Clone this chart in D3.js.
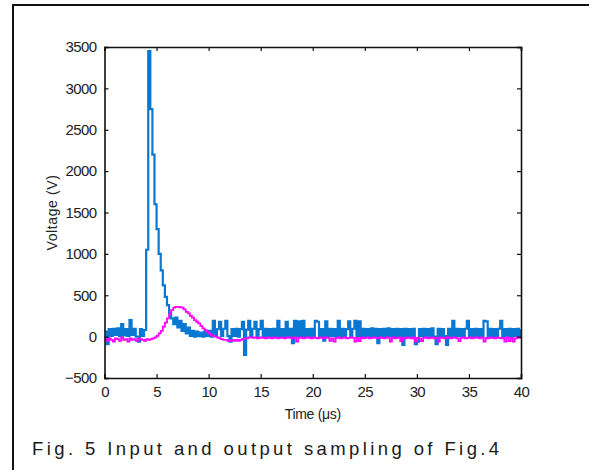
<!DOCTYPE html>
<html>
<head>
<meta charset="utf-8">
<script src="https://cdn.jsdelivr.net/npm/d3@7"></script>
<style>
  body { margin: 0; background: #fff; }
  svg { display: block; }
</style>
</head>
<body>
<div id="chart"></div>
<script>
// sampling step (us)
const dt = 0.2;

// x / y ticks
const xTicks = [0, 5, 10, 15, 20, 25, 30, 35, 40];
const yTicks = [-500, 0, 500, 1000, 1500, 2000, 2500, 3000, 3500];

// input (blue), one value per 0.2 us, 0..40 us
const inputV = [
  60, -90, 90, 10, 95, 20, 100, 5, 150, 15,
  90, 10, 200, 20, 95, 0, -60, 90, 10, 80,
  1050, 3450, 2750, 2200, 1600, 1300, 1000, 800, 620, 480,
  380, 280, 220, 150, 230, 110, 190, 70, 150, 40,
  110, 10, 70, 0, 60, 5, 50, 0, 60, 10,
  70, 0, 190, 10, 90, 180, 10, 95, 190, 5,
  -60, 90, 10, 95, 0, 90, 180, -220, 85, 190,
  10, 95, 180, 5, 90, 190, 10, 95, 0, 90,
  10, 95, 5, 190, 10, 90, 0, 180, 10, 95,
  -80, 190, 5, 185, 10, 190, 5, 90, 10, 95,
  0, 190, 180, 10, 90, -50, 185, 5, 95, 10,
  90, 0, 190, 10, 95, 5, 90, 185, 10, 95,
  190, 5, 185, 10, 95, 5, 90, 10, 100, 0,
  95, -80, 90, 10, 95, 5, 100, 10, 90, 0,
  95, 10, 90, -100, 95, 5, 90, 10, 95, -90,
  -60, 90, 10, 95, 5, 90, 10, 100, 0, -90,
  95, 10, 90, 5, -100, 95, 10, 190, 5, 95,
  10, 90, 0, 95, 190, 10, 90, 5, 95, 10,
  90, 5, 190, 185, 10, 95, 0, 90, 10, 95,
  190, 5, 90, 10, 95, 0, 90, 10, 95, 5,
  90
];

// output (magenta), same sampling
const outputV = [
  -30, -50, -20, -40, -60, -20, -30, -50, -10, -40,
  -30, -60, -20, -40, -30, -50, -20, -30, -40, -50,
  -30, -40, -30, -20, -10, 10, 40, 70, 120, 170,
  220, 270, 320, 350, 360, 360, 355, 350, 330, 300,
  280, 250, 230, 200, 180, 160, 130, 100, 80, 60,
  40, 20, 10, 0, -10, -20, -30, -40, -40, -50,
  -50, -40, -50, -40, -50, -40, -30, -20, -20, -10,
  -10,
  -15, -10, -20, -15, -10, -15, -20, -10, -15, -20,
  -10, -15, -20, -15, -10, -20, -15, -10, -15, -20,
  -10, -60, -15, -10, -20, -15, -10, -15, -20, -10,
  -15, -20, -10, -15, -20, -10, -15, -50, -20, -60,
  -15, -10, -20, -15, -10, -20, -15, -10, -15, -60,
  -15, -55, -10, -20, -15, -10, -20, -15, -10, -15,
  -20, -10, -15, -20, -10, -15, -60, -10, -20, -15,
  -10, -55, -15, -20, -10, -15, -20, -10, -60, -15,
  -20, -55, -15, -10, -20, -15, -10, -20, -15, -60,
  -10, -15, -20, -10, -15, -20, -10, -15, -20, -55,
  -15, -10, -20, -15, -10, -20, -15, -10, -15, -20,
  -10, -60, -15, -20, -10, -15, -20, -10, -15, -20,
  -15, -60, -10, -55, -15, -60, -20, -10, -15, -20
];

const width = 589;
const height = 470;

// plot box
const plotL = 104.5, plotR = 521, plotT = 47, plotB = 378;

const svg = d3.select("#chart")
  .append("svg")
  .attr("width", width)
  .attr("height", height);

svg.append("rect").attr("width", width).attr("height", height).attr("fill", "#fff");

// page frame (top and left edges)
svg.append("line")
  .attr("x1", 13).attr("x2", width).attr("y1", 5).attr("y2", 5)
  .attr("stroke", "#111").attr("stroke-width", 2);
svg.append("line")
  .attr("x1", 13).attr("x2", 13).attr("y1", 4).attr("y2", height)
  .attr("stroke", "#111").attr("stroke-width", 2);

const x = d3.scaleLinear().domain([0, 40]).range([plotL, plotR]);
const y = d3.scaleLinear().domain([-500, 3500]).range([plotB, plotT]);

const plot = svg.append("g");

plot.append("defs").append("clipPath").attr("id", "clip")
  .append("rect")
  .attr("x", plotL).attr("y", plotT)
  .attr("width", plotR - plotL).attr("height", plotB - plotT);

const line = d3.line()
  .x((d, i) => x(i * dt))
  .y(d => y(d))
  .curve(d3.curveStepAfter);

plot.append("path")
  .datum(inputV)
  .attr("clip-path", "url(#clip)")
  .attr("fill", "none")
  .attr("stroke", "#0a78d2")
  .attr("stroke-width", 2.2)
  .attr("d", line);

plot.append("path")
  .datum(outputV)
  .attr("clip-path", "url(#clip)")
  .attr("fill", "none")
  .attr("stroke", "#ff00ff")
  .attr("stroke-width", 1.8)
  .attr("d", line);

// axes with inward ticks
const tickFont = "Liberation Sans, Arial, sans-serif";

const xAxis = svg.append("g")
  .attr("transform", `translate(0,${plotB})`)
  .call(d3.axisBottom(x).tickValues(xTicks).tickSize(-4).tickPadding(8).tickFormat(d3.format("d")));
const xTop = svg.append("g")
  .attr("transform", `translate(0,${plotT})`)
  .call(d3.axisTop(x).tickValues(xTicks).tickSize(-4).tickFormat(""));
const yAxis = svg.append("g")
  .attr("transform", `translate(${plotL},0)`)
  .call(d3.axisLeft(y).tickValues(yTicks).tickSize(-4).tickPadding(8).tickFormat(d3.format("d")));
const yRight = svg.append("g")
  .attr("transform", `translate(${plotR},0)`)
  .call(d3.axisRight(y).tickValues(yTicks).tickSize(-4).tickFormat(""));

[xAxis, xTop, yAxis, yRight].forEach(g => {
  g.selectAll("path.domain").attr("stroke", "#111").attr("stroke-width", 1.6);
  g.selectAll(".tick line").attr("stroke", "#111").attr("stroke-width", 1.2);
  g.selectAll("text")
    .attr("fill", "#222")
    .style("font-family", tickFont)
    .style("font-size", "15px")
    .style("letter-spacing", "-0.6px");
});

// axis titles
svg.append("text")
  .attr("x", (plotL + plotR) / 2)
  .attr("y", 419)
  .attr("text-anchor", "middle")
  .attr("fill", "#222")
  .style("font-family", tickFont)
  .style("font-size", "14px")
  .style("letter-spacing", "-0.3px")
  .text("Time (\u03bcs)");

svg.append("text")
  .attr("transform", `translate(57,${(plotT + plotB) / 2}) rotate(-90)`)
  .attr("text-anchor", "middle")
  .attr("fill", "#222")
  .style("font-family", tickFont)
  .style("font-size", "14px")
  .style("letter-spacing", "0.6px")
  .text("Voltage (V)");

// caption
svg.append("text")
  .attr("x", 32)
  .attr("y", 455)
  .attr("fill", "#1a1a1a")
  .style("font-family", tickFont)
  .style("font-size", "18.5px")
  .style("letter-spacing", "3.4px")
  .text("Fig. 5 Input and output sampling of Fig.4");
</script>
</body>
</html>
